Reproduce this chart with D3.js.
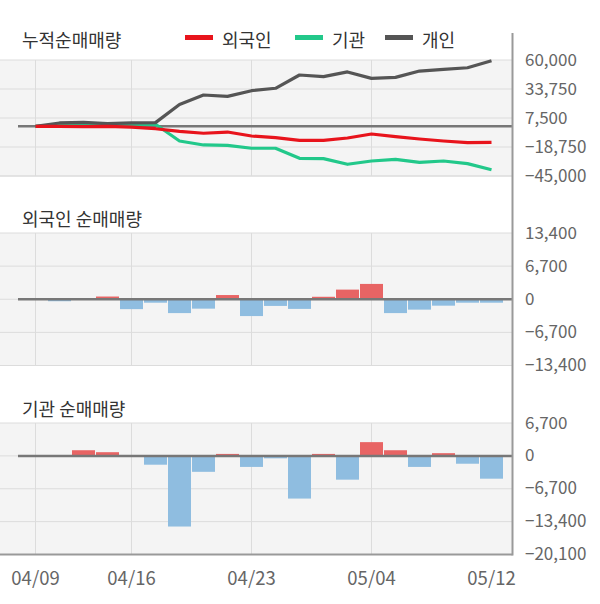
<!DOCTYPE html>
<html><head><meta charset="utf-8">
<script src="https://cdn.jsdelivr.net/npm/d3@7/dist/d3.min.js"></script>
<style>
html,body{margin:0;padding:0;background:#fff;}
svg text{font-family:"Noto Sans CJK KR","Noto Sans",sans-serif;}
</style></head>
<body><svg id="c" width="600" height="604"></svg>
<script>
const dates = ["04/09","04/10","04/13","04/14","04/16","04/17","04/20","04/21","04/22","04/23","04/24","04/27","04/28","04/29","05/04","05/06","05/07","05/08","05/11","05/12"];
const dateTicks = ["04/09","04/16","04/23","05/04","05/12"];
const gridDates = ["04/09","04/16","04/23","05/04"];

// cumulative net buying
const cumForeign = [0,-100,-300,0,-700,-2200,-4600,-6300,-5200,-8800,-10300,-12700,-12700,-10600,-7000,-9400,-11500,-13300,-14800,-14500];
const cumInst    = [0,1500,2300,2300,2000,1800,-13300,-16900,-17200,-19900,-19900,-29000,-29300,-34400,-31400,-29900,-32600,-31400,-33800,-39300];
const cumIndiv   = [0,3000,3600,2400,3000,3300,19800,28300,27100,32200,34400,46400,44900,49200,43400,44300,50000,51600,53000,59300];

// daily net buying
const foreignDaily = [0,-400,0,550,-2000,-700,-2800,-1900,850,-3400,-1350,-1950,500,1950,3100,-2800,-2100,-1300,-700,-700];
const instDaily    = [0,0,1150,750,0,-1800,-14400,-3250,400,-2250,-500,-8700,400,-4850,2800,1150,-2250,550,-1600,-4650];

const topTicks = [60000,33750,7500,-18750,-45000];
const midTicks = [13400,6700,0,-6700,-13400];
const botTicks = [6700,0,-6700,-13400,-20100];

const seriesNames = ["외국인","기관","개인"];
const seriesColors = ["#e8141c","#22c88a","#555555"];

const svg = d3.select("#c");
const XL = 0, XR = 512.5;
const x = d3.scaleBand().domain(dates).range([23.5,503.5]).paddingInner(1/24).paddingOuter(1/48);
const cx = d => x(d) + x.bandwidth()/2;
const fmt = d3.format(",");

function panel(y0, y1, domain, ticks, title, titleY, bottomColor) {
  const y = d3.scaleLinear().domain(domain).range([y1, y0]);
  const g = svg.append("g");
  g.append("rect").attr("x",XL).attr("y",y0).attr("width",XR-XL).attr("height",y1-y0).attr("fill","#f4f4f4");
  g.selectAll(".hg").data(ticks).join("line")
    .attr("x1",XL).attr("x2",XR).attr("y1",d=>y(d)).attr("y2",d=>y(d))
    .attr("stroke","#dcdcdc").attr("stroke-width",1);
  g.selectAll(".vg").data(gridDates).join("line")
    .attr("x1",d=>cx(d)).attr("x2",d=>cx(d)).attr("y1",y0).attr("y2",y1)
    .attr("stroke","#dcdcdc").attr("stroke-width",1);
  g.append("line").attr("x1",XL).attr("x2",XR).attr("y1",y1).attr("y2",y1)
    .attr("stroke",bottomColor).attr("stroke-width",bottomColor==="#999"?2:1);
  const ax = d3.axisRight(y).tickValues(ticks).tickFormat(fmt).tickSize(0).tickPadding(0);
  const a = svg.append("g").attr("transform",`translate(525,0)`).call(ax);
  a.select(".domain").remove();
  a.selectAll("text").attr("font-size","17px").attr("fill","#666").attr("dy","0.3em")
    .attr("font-family","'Noto Sans CJK KR','Noto Sans',sans-serif");
  svg.append("text").attr("x",22).attr("y",titleY).attr("font-size","18px").attr("fill","#333").text(title);
  return {g, y};
}

// Top panel
const topP = panel(60, 176, [-45000,60000], topTicks, "누적순매매량", 46.5, "#dcdcdc");
topP.g.append("line").attr("x1",18).attr("x2",XR).attr("y1",topP.y(0)).attr("y2",topP.y(0))
  .attr("stroke","#777").attr("stroke-width",2.5);
const line = d3.line().x((d,i)=>cx(dates[i])).y(d=>topP.y(d));
topP.g.append("path").attr("d",line(cumInst)).attr("fill","none").attr("stroke",seriesColors[1]).attr("stroke-width",3.2).attr("stroke-linejoin","round");
topP.g.append("path").attr("d",line(cumIndiv)).attr("fill","none").attr("stroke",seriesColors[2]).attr("stroke-width",3.2).attr("stroke-linejoin","round");
topP.g.append("path").attr("d",line(cumForeign)).attr("fill","none").attr("stroke",seriesColors[0]).attr("stroke-width",3.2).attr("stroke-linejoin","round");

// Legend
const legX = [185, 295, 385];
seriesNames.forEach((n,i)=>{
  svg.append("line").attr("x1",legX[i]).attr("x2",legX[i]+28).attr("y1",37.5).attr("y2",37.5)
    .attr("stroke",seriesColors[i]).attr("stroke-width",5);
  svg.append("text").attr("x",legX[i]+37).attr("y",46.5).attr("font-size","18px").attr("fill","#333").text(n);
});

function bars(p, data) {
  p.g.selectAll(".bar").data(data).join("rect")
    .attr("x",(d,i)=>x(dates[i])).attr("width",x.bandwidth())
    .attr("y",d=>d>=0?p.y(d):p.y(0)).attr("height",d=>Math.abs(p.y(d)-p.y(0)))
    .attr("fill",d=>d>=0?"#e86464":"#8fbde0");
  p.g.append("line").attr("x1",18).attr("x2",XR).attr("y1",p.y(0)).attr("y2",p.y(0))
    .attr("stroke","#777").attr("stroke-width",2.5);
}
const midP = panel(233, 365.5, [-13400,13400], midTicks, "외국인 순매매량", 225.5, "#dcdcdc");
bars(midP, foreignDaily);
const botP = panel(423, 554.5, [-20100,6700], botTicks, "기관 순매매량", 415.5, "#999");
bars(botP, instDaily);

// right axis line
svg.append("line").attr("x1",XR).attr("x2",XR).attr("y1",33).attr("y2",555.5).attr("stroke","#999").attr("stroke-width",2);

// x axis labels
const xa = d3.axisBottom(x).tickValues(dateTicks).tickSize(0).tickPadding(0);
const xg = svg.append("g").attr("transform","translate(0,572)").call(xa);
xg.select(".domain").remove();
xg.selectAll("text").attr("font-size","18.5px").attr("fill","#666").attr("dy","0.72em")
  .attr("font-family","'Noto Sans CJK KR','Noto Sans',sans-serif");
</script></body></html>
